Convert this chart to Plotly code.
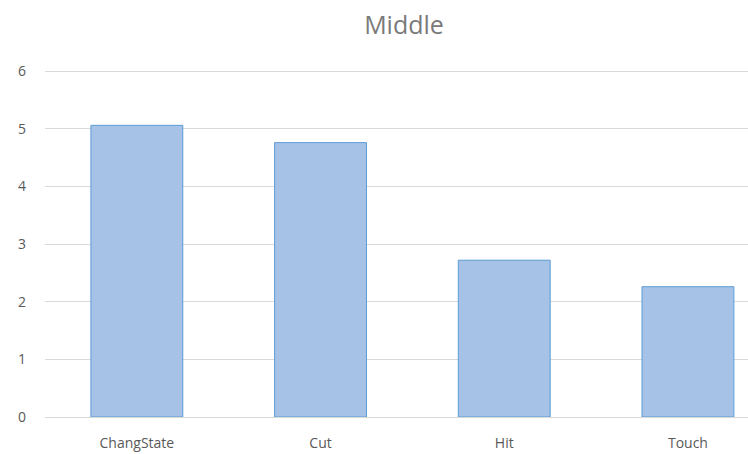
import plotly.graph_objects as go

categories = ["ChangState", "Cut", "Hit", "Touch"]
values = [5.06, 4.76, 2.72, 2.26]
y_ticks = [0, 1, 2, 3, 4, 5, 6]

fig = go.Figure()
fig.add_trace(go.Bar(
    x=categories, y=values,
    marker=dict(color="#a6c3e7", line=dict(color="#5b9bd5", width=1)),
    width=0.5,
))

fig.update_layout(
    width=748, height=454,
    margin=dict(l=45, r=0, t=70, b=37),
    paper_bgcolor="white", plot_bgcolor="white",
    font=dict(family="Open Sans, Liberation Sans, sans-serif", color="#595959", size=13),
    title=dict(text="Middle", x=404/748, xanchor="center", xref="container",
               y=1 - 25/454, yanchor="middle", yref="container",
               font=dict(size=25, color="#7a7a7a")),
    showlegend=False,
    bargap=0.5,
)
fig.update_xaxes(range=[-0.5, 3.327], showgrid=False, showline=True, linecolor="#d9d9d9",
                 ticks="", ticklabelstandoff=13, tickfont=dict(size=14, color="#595959"))
fig.update_yaxes(range=[0, 6.02], tickvals=y_ticks, showgrid=True, gridcolor="#d9d9d9",
                 zeroline=False, showline=False, ticks="", ticklabelstandoff=18,
                 tickfont=dict(size=14, color="#595959"))

fig.write_html("out.html")
